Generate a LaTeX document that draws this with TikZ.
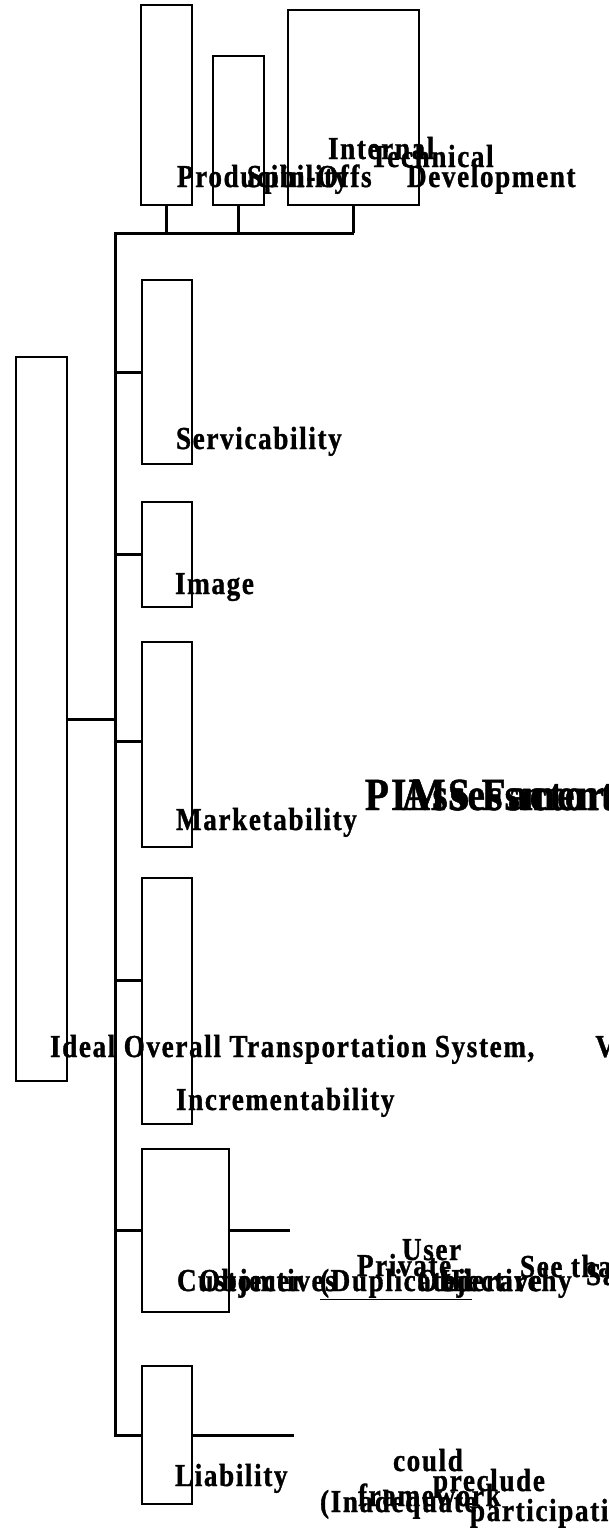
\documentclass[tikz,border=0pt]{standalone}
\usepackage{fontspec}
\newfontfamily\lblfont[FakeStretch=0.85, LetterSpace=5, FakeBold=1]{Liberation Serif}
\begin{document}
\begin{tikzpicture}[x=1pt,y=-1pt,
  box/.style={draw, line width=2pt, inner sep=0pt, outer sep=0pt},
  conn/.style={line width=3pt},
  lbl/.style={anchor=base west, inner sep=0pt, outer sep=0pt,
    font=\lblfont\bfseries\fontsize{32}{36}\selectfont},
  biglbl/.style={lbl, font=\lblfont\bfseries\fontsize{46}{50}\selectfont}]
\useasboundingbox (0,0) rectangle (608,1539);

% objective boxes
\node[box, minimum width=51pt, minimum height=200pt] (prod) at (166.5,105) {};
\node[box, minimum width=51pt, minimum height=149pt] (spin) at (238.5,130.5) {};
\node[box, minimum width=131pt, minimum height=195pt] (itd) at (353.5,107.5) {};
\node[box, minimum width=51pt, minimum height=724pt] (root) at (41.5,719) {};
\node[box, minimum width=50pt, minimum height=184pt] (serv) at (167,372) {};
\node[box, minimum width=50pt, minimum height=105pt] (img) at (167,554.5) {};
\node[box, minimum width=50pt, minimum height=205pt] (mkt) at (167,744.5) {};
\node[box, minimum width=50pt, minimum height=246pt] (inc) at (167,1001) {};
\node[box, minimum width=87pt, minimum height=163pt] (cust) at (185.5,1230.5) {};
\node[box, minimum width=50pt, minimum height=138pt] (liab) at (167,1435) {};

% tree connectors
\coordinate (trunktop) at (115,233);
\coordinate (mktjoin) at (115,741);
\coordinate (incjoin) at (115,980);
\coordinate (custend) at (290,1230.5);
\coordinate (liabend) at (294,1435);
\draw[conn] (itd.south |- trunktop) -- (trunktop) -- (trunktop |- liab.west) -- (liab.west);
\draw[conn] (prod.south) -- (prod.south |- trunktop);
\draw[conn] (spin.south) -- (spin.south |- trunktop);
\draw[conn] (itd.south) -- (itd.south |- trunktop);
\draw[conn] (root.east) -- (root.east -| trunktop);
\draw[conn] (serv.west) -- (serv.west -| trunktop);
\draw[conn] (img.west) -- (img.west -| trunktop);
\draw[conn] (mktjoin) -- (mktjoin -| mkt.west);
\draw[conn] (incjoin) -- (incjoin -| inc.west);
\draw[conn] (cust.west) -- (cust.west -| trunktop);
\draw[conn] (cust.east) -- (custend);
\draw[conn] (liab.east) -- (liabend);

% labels
\node[lbl] (tInternal) at (328,159) {Internal};
\node[lbl] (tTechnical) at (370,167) {Technical};
\node[lbl] (tProd) at (177,187) {Producibility};
\node[lbl] (tSpin) at (247,187) {Spin-Offs};
\node[lbl] (tDev) at (407,187) {Development};
\node[lbl] (tServ) at (176,449) {Servicability};
\node[lbl] (tImg) at (175,594) {Image};
\node[lbl] (tMkt) at (176,830) {Marketability};
\node[biglbl] (tPims) at (365,810) {PIMS Factors};
\node[biglbl] (tAssess) at (402,810) {Assessment};
\node[lbl] (tRoot) at (50,1057) {Ideal Overall Transportation System,\hspace{61pt}V};
\node[lbl] (tInc) at (176,1110) {Incrementability};
\node[lbl] (tUser) at (402,1260) {User};
\node[lbl] (tPriv) at (357,1276) {Private};
\node[lbl] (tSee) at (520,1277) {See that};
\node[lbl] (tSame) at (586,1285) {Same};
\node[lbl] (tCust) at (177,1291) {Customer};
\node[lbl] (tObj) at (199,1291) {Objectives};
\node[lbl] (tDup) at (320,1291) {\underline{(Duplicated}};
\node[lbl] (tObj2) at (417,1291) {Objective};
\node[lbl] (tHier) at (440,1291) {Hierarchy};
\node[lbl] (tLiab) at (175,1486) {Liability};
\node[lbl] (tCould) at (393,1471) {could};
\node[lbl] (tPrec) at (433,1491) {preclude};
\node[lbl] (tFrame) at (358,1506) {framework};
\node[lbl] (tInad) at (320,1512) {(Inadequate};
\node[lbl] (tPart) at (470,1521) {participation};
\end{tikzpicture}
\end{document}
